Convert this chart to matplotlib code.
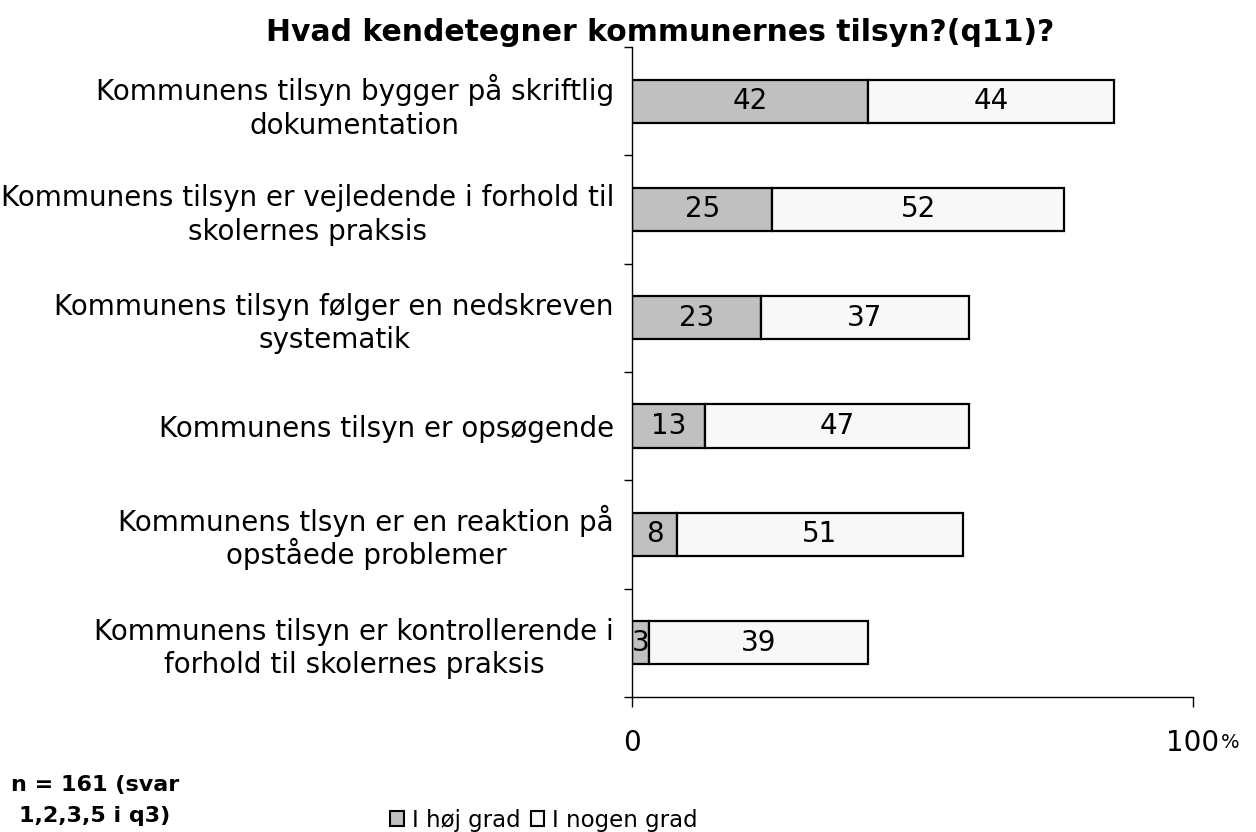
import matplotlib
matplotlib.use("Agg")
import matplotlib.pyplot as plt
import matplotlib.transforms as mtransforms
from matplotlib.patches import Patch
import numpy as np

# ---- data ----
title = "Hvad kendetegner kommunernes tilsyn?(q11)?"
categories = [
    "Kommunens tilsyn bygger på skriftlig\ndokumentation",
    "Kommunens tilsyn er vejledende i forhold til\nskolernes praksis",
    "Kommunens tilsyn følger en nedskreven\nsystematik",
    "Kommunens tilsyn er opsøgende",
    "Kommunens tlsyn er en reaktion på\nopståede problemer",
    "Kommunens tilsyn er kontrollerende i\nforhold til skolernes praksis",
]
hoej_grad = [42, 25, 23, 13, 8, 3]
nogen_grad = [44, 52, 37, 47, 51, 39]
series_names = ["I høj grad", "I nogen grad"]
series_colors = ["#C0C0C0", "#F8F8F8"]
xtick_values = [0, 100]
xtick_labels = ["0", "100"]
note_text = "n = 161 (svar\n1,2,3,5 i q3)"

# ---- figure ----
fig = plt.figure(figsize=(12.56, 8.32), dpi=100)
ax = fig.add_axes([0.5032, 0.1623, 0.9498 - 0.5032, 0.9435 - 0.1623])

y = np.arange(len(categories))
b1 = ax.barh(y, hoej_grad, height=0.4, color=series_colors[0],
             edgecolor="black", linewidth=1.6, label=series_names[0])
b2 = ax.barh(y, nogen_grad, left=hoej_grad, height=0.4, color=series_colors[1],
             edgecolor="black", linewidth=1.6, label=series_names[1])
ax.bar_label(b1, labels=[str(v) for v in hoej_grad], label_type="center", fontsize=20)
ax.bar_label(b2, labels=[str(v) for v in nogen_grad], label_type="center", fontsize=20)

ax.set_xlim(0, 100)
ax.set_ylim(len(categories) - 0.5, -0.5)

# y ticks at category boundaries, labels at centers
ax.set_yticks(np.arange(-0.5, len(categories), 1.0))
ax.set_yticklabels([])
ax.set_yticks(y, minor=True)
ax.set_yticklabels(categories, minor=True, fontsize=20, linespacing=1.25,
                   multialignment="center")
ax.tick_params(axis="y", which="major", length=6, width=1, direction="out", color="black")
ax.tick_params(axis="y", which="minor", length=0, pad=13)

# keep even line spacing for second lines containing a tall accented letter
for lbl in ax.get_yticklabels(minor=True):
    lines = lbl.get_text().split("\n")
    if len(lines) > 1 and any(ch in lines[1] for ch in "åÅ"):
        lbl.set_linespacing(1.03)

ax.set_xticks(xtick_values)
ax.set_xticklabels(xtick_labels, fontsize=20)
ax.tick_params(axis="x", which="major", length=7, width=1, direction="out", pad=16, color="black")

# small percent sign next to 100
trans = mtransforms.blended_transform_factory(ax.transData, ax.transAxes)
ax.annotate("%", xy=(xtick_values[-1], 0), xycoords=trans, xytext=(20, -37),
            textcoords="offset points", fontsize=14, ha="left", va="baseline")

for s in ["top", "right"]:
    ax.spines[s].set_visible(False)
for s in ["left", "bottom"]:
    ax.spines[s].set_color("black")
    ax.spines[s].set_linewidth(1)

fig.text(0.5255, 0.9615, title, ha="center", va="center", fontsize=21.5, fontweight="bold")

fig.text(0.0756, 0.038, note_text, ha="center", va="center", fontsize=16,
         fontweight="bold", multialignment="center", linespacing=1.65)

handles = [Patch(facecolor=c, edgecolor="black", linewidth=1.5) for c in series_colors]
fig.legend(handles, series_names, loc="center", bbox_to_anchor=(0.433, 0.0144),
           ncol=2, frameon=False, fontsize=16.5, handlelength=0.6, handleheight=0.6,
           handletextpad=0.35, columnspacing=0.45, borderpad=0, borderaxespad=0)

fig.savefig("out.png", dpi=100)
